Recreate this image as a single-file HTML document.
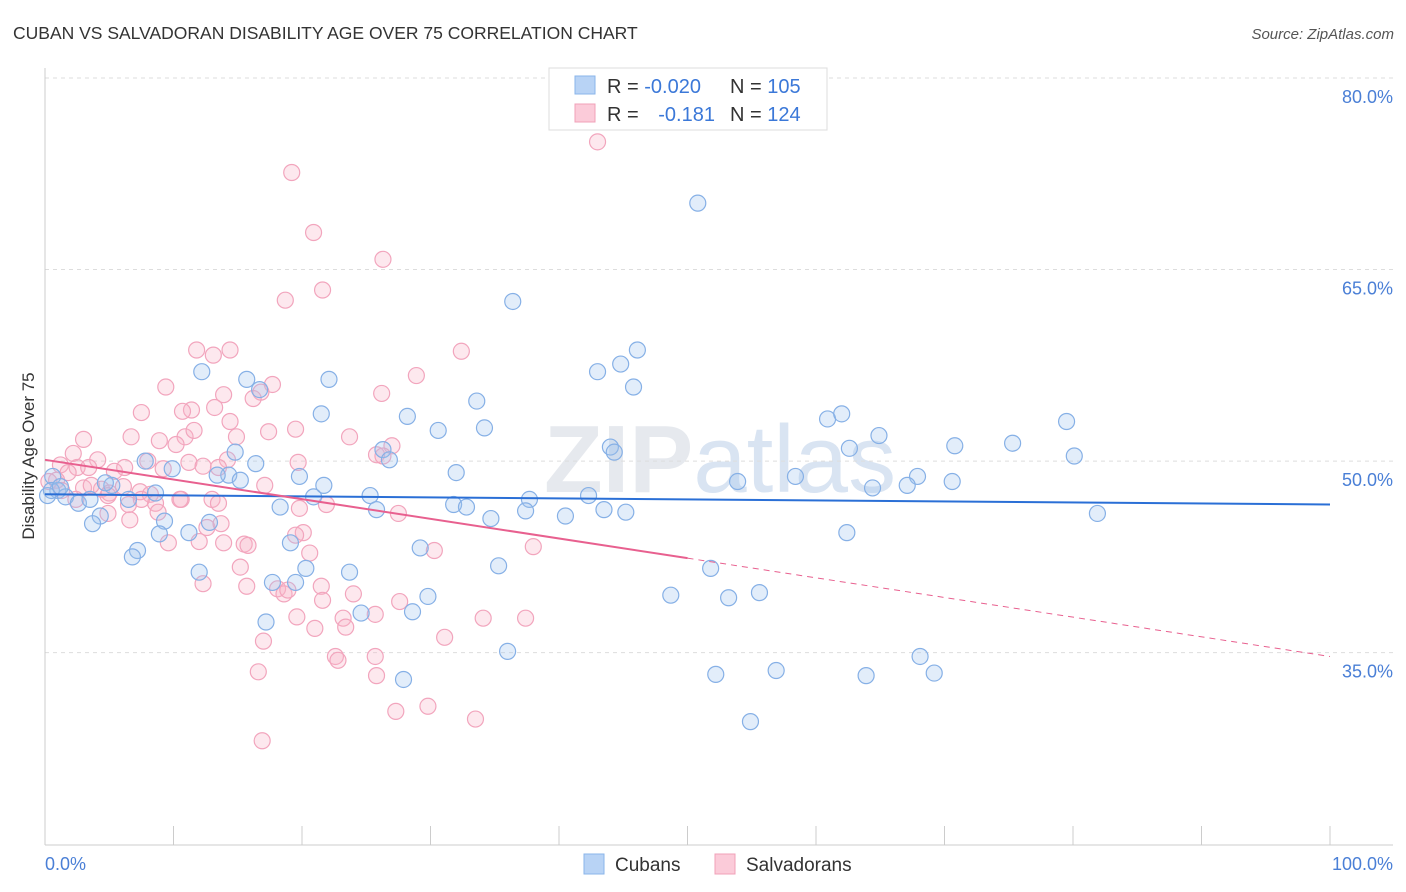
<!DOCTYPE html>
<html><head><meta charset="utf-8"><style>
body{margin:0;background:#fff;font-family:"Liberation Sans",sans-serif;}
#wrap{position:relative;width:1406px;height:892px;overflow:hidden;}
svg text{font-family:"Liberation Sans",sans-serif;}
</style></head><body>
<div id="wrap">
<svg id="chart" width="1406" height="892">
<text x="13" y="39" font-size="17.5" fill="#333">CUBAN VS SALVADORAN DISABILITY AGE OVER 75 CORRELATION CHART</text>
<text x="1394" y="39" font-size="15" fill="#555" font-style="italic" text-anchor="end">Source: ZipAtlas.com</text>
<text x="720" y="492" font-size="96" fill="#e6e9ee" text-anchor="middle" font-weight="bold">ZIP<tspan fill="#d9e4f2" font-weight="normal">atlas</tspan></text>
<text transform="translate(34,456) rotate(-90)" font-size="17" fill="#333" text-anchor="middle">Disability Age Over 75</text>
<g id="grid"></g><g id="axes"></g><g id="pts"></g><g id="lines"></g>
<g>
<rect x="549" y="68" width="278" height="62" fill="#fff" stroke="#ddd"/>
<rect x="575" y="76" width="20" height="18" fill="#b8d3f5" stroke="#8ab4ea"/>
<rect x="575" y="104" width="20" height="18" fill="#fbcbd9" stroke="#f0a0b8"/>
<text x="607" y="93" font-size="20" fill="#333">R = <tspan fill="#3b78d8">-0.020</tspan></text>
<text x="730" y="93" font-size="20" fill="#333">N = <tspan fill="#3b78d8">105</tspan></text>
<text x="607" y="121" font-size="20" fill="#333">R = <tspan fill="#3b78d8" dx="14">-0.181</tspan></text>
<text x="730" y="121" font-size="20" fill="#333">N = <tspan fill="#3b78d8">124</tspan></text>
</g>
<g>
<rect x="584" y="854" width="20" height="20" fill="#b8d3f5" stroke="#8ab4ea"/>
<text x="615" y="871" font-size="19" fill="#333">Cubans</text>
<rect x="715" y="854" width="20" height="20" fill="#fbcbd9" stroke="#f0a0b8"/>
<text x="746" y="871" font-size="19" fill="#333">Salvadorans</text>
</g>
</svg>
</div>
<script>
const yTicks=[80,65,50,35];
const cubanX=[50.8,36.4,46.1,44.8,43.0,45.8,12.2,15.7,22.1,16.7,33.6,21.5,28.2,60.9,62.0,79.5,30.6,34.2,64.9,70.8,75.3,44.0,44.3,62.6,26.3,26.8,80.1,14.8,16.4,7.8,9.9,32.0,14.3,13.4,19.8,21.7,58.4,67.9,53.9,70.6,67.1,64.4,0.6,1.0,1.6,2.6,3.5,5.2,4.7,6.5,8.6,15.2,25.3,20.9,37.7,42.3,31.8,32.8,25.8,18.3,43.5,45.2,37.4,40.5,34.7,81.9,4.3,3.7,9.3,11.2,8.9,12.8,7.2,6.8,62.4,29.2,19.1,35.3,51.8,20.3,23.7,12.0,17.7,19.5,48.7,53.2,55.6,29.8,28.6,24.6,17.2,36.0,68.1,56.9,52.2,63.9,69.2,27.9,54.9,0.2,0.5,1.2];
const cubanY=[70.2,62.5,58.7,57.6,57.0,55.8,57.0,56.4,56.4,55.6,54.7,53.7,53.5,53.3,53.7,53.1,52.4,52.6,52.0,51.2,51.4,51.1,50.7,51.0,50.9,50.1,50.4,50.7,49.8,50.0,49.4,49.1,48.9,48.9,48.8,48.1,48.8,48.8,48.4,48.4,48.1,47.9,48.8,47.7,47.2,46.7,47.0,48.1,48.3,47.0,47.5,48.5,47.3,47.2,47.0,47.3,46.6,46.4,46.2,46.4,46.2,46.0,46.1,45.7,45.5,45.9,45.7,45.1,45.3,44.4,44.3,45.2,43.0,42.5,44.4,43.2,43.6,41.8,41.6,41.6,41.3,41.3,40.5,40.5,39.5,39.3,39.7,39.4,38.2,38.1,37.4,35.1,34.7,33.6,33.3,33.2,33.4,32.9,29.6,47.3,47.7,48.0];
const salvX=[43.0,19.2,20.9,26.3,21.6,18.7,11.8,13.1,14.4,32.4,28.9,9.4,17.7,16.8,26.2,13.9,16.2,11.4,10.7,13.2,7.5,14.4,6.7,10.9,8.9,10.2,11.6,3.0,14.9,23.7,19.5,17.4,8.0,11.2,14.2,4.1,2.2,2.5,3.4,5.4,6.2,9.2,12.3,13.5,19.7,25.8,27.0,26.3,1.2,1.8,0.9,0.3,1.3,4.4,5.0,7.4,6.1,8.2,3.0,4.9,8.6,6.5,4.9,6.6,8.8,10.6,13.0,13.5,17.1,19.8,21.9,27.5,12.6,13.7,12.0,20.1,19.5,15.5,15.8,9.6,20.6,38.0,30.3,15.2,12.3,18.1,18.6,21.5,24.0,15.7,18.9,27.6,21.6,19.6,34.1,37.4,23.2,23.4,21.0,25.7,17.0,31.1,22.6,22.8,25.7,25.8,16.6,27.3,29.8,33.5,16.9,13.9,10.5,2.4,7.5,3.6];
const salvY=[75.0,72.6,67.9,65.8,63.4,62.6,58.7,58.3,58.7,58.6,56.7,55.8,56.0,55.4,55.3,55.2,54.9,54.0,53.9,54.2,53.8,53.1,51.9,51.9,51.6,51.3,52.4,51.7,51.9,51.9,52.5,52.3,50.0,49.9,50.1,50.1,50.6,49.5,49.5,49.2,49.5,49.4,49.6,49.5,49.9,50.5,51.2,50.4,49.7,49.1,48.5,48.4,47.7,47.8,47.5,47.6,48.0,47.4,47.9,47.3,46.7,46.6,45.9,45.4,46.0,47.0,47.0,46.7,48.1,46.3,46.6,45.9,44.8,45.1,43.7,44.4,44.2,43.5,43.4,43.6,42.8,43.3,43.0,41.7,40.4,40.0,39.6,40.2,39.6,40.2,39.9,39.0,39.1,37.8,37.7,37.7,37.7,37.0,36.9,38.0,35.9,36.2,34.7,34.4,34.7,33.2,33.5,30.4,30.8,29.8,28.1,43.6,47.0,47.0,47.0,48.1];
const cubanTrend=[47.4,46.6];
const salvTrend=[50.1,34.7];
const salvSolidEnd=50;
const X0=45,X1=1330,Y80=78,PX=12.77;
const sx=v=>X0+(X1-X0)*v/100;
const sy=v=>Y80+(80-v)*PX;
const NS="http://www.w3.org/2000/svg";
function mk(t,a,p){const e=document.createElementNS(NS,t);for(const k in a)e.setAttribute(k,a[k]);p.appendChild(e);return e;}
const grid=document.getElementById('grid'),axes=document.getElementById('axes'),pts=document.getElementById('pts'),lines=document.getElementById('lines');
yTicks.forEach(t=>{
 const l=mk('line',{x1:X0,x2:1393,y1:sy(t),y2:sy(t),stroke:'#ddd','stroke-dasharray':'4,4'},grid);
 
 
 const tx=mk('text',{x:1393,y:sy(t)+25,'font-size':18,fill:'#4a7fd6','text-anchor':'end'},axes);
 tx.textContent=t.toFixed(1)+'%';
 
 
});
const ax=mk('line',{x1:X0,x2:X0,y1:68,y2:845,stroke:'#ccc'},axes);


const bx=mk('line',{x1:X0,x2:1393,y1:845,y2:845,stroke:'#ccc'},axes);


for(let i=0;i<=10;i++){const t=mk('line',{x1:sx(i*10),x2:sx(i*10),y1:826,y2:845,stroke:'#ccc'},axes);
 
 }
const xl=mk('text',{x:45,y:870,'font-size':18,fill:'#4a7fd6'},axes);xl.textContent='0.0%';


const xr=mk('text',{x:1393,y:870,'font-size':18,fill:'#4a7fd6','text-anchor':'end'},axes);xr.textContent='100.0%';


salvX.forEach((x,i)=>{const c=mk('circle',{cx:sx(x),cy:sy(salvY[i]),r:8,fill:'rgba(248,180,200,0.3)',stroke:'#f2a5bd','stroke-width':1.2},pts);
 
 });
cubanX.forEach((x,i)=>{const c=mk('circle',{cx:sx(x),cy:sy(cubanY[i]),r:8,fill:'rgba(160,196,240,0.3)',stroke:'#86b0e6','stroke-width':1.2},pts);
 
 });
const cl=mk('line',{x1:sx(0),y1:sy(cubanTrend[0]),x2:sx(100),y2:sy(cubanTrend[1]),stroke:'#2a6fd6','stroke-width':2},lines);


const midY=salvTrend[0]+(salvTrend[1]-salvTrend[0])*salvSolidEnd/100;
const sl=mk('line',{x1:sx(0),y1:sy(salvTrend[0]),x2:sx(salvSolidEnd),y2:sy(midY),stroke:'#e8608f','stroke-width':2},lines);


const sd=mk('line',{x1:sx(salvSolidEnd),y1:sy(midY),x2:sx(100),y2:sy(salvTrend[1]),stroke:'#e8608f','stroke-width':1,'stroke-dasharray':'6,5'},lines);


</script>
</body></html>
